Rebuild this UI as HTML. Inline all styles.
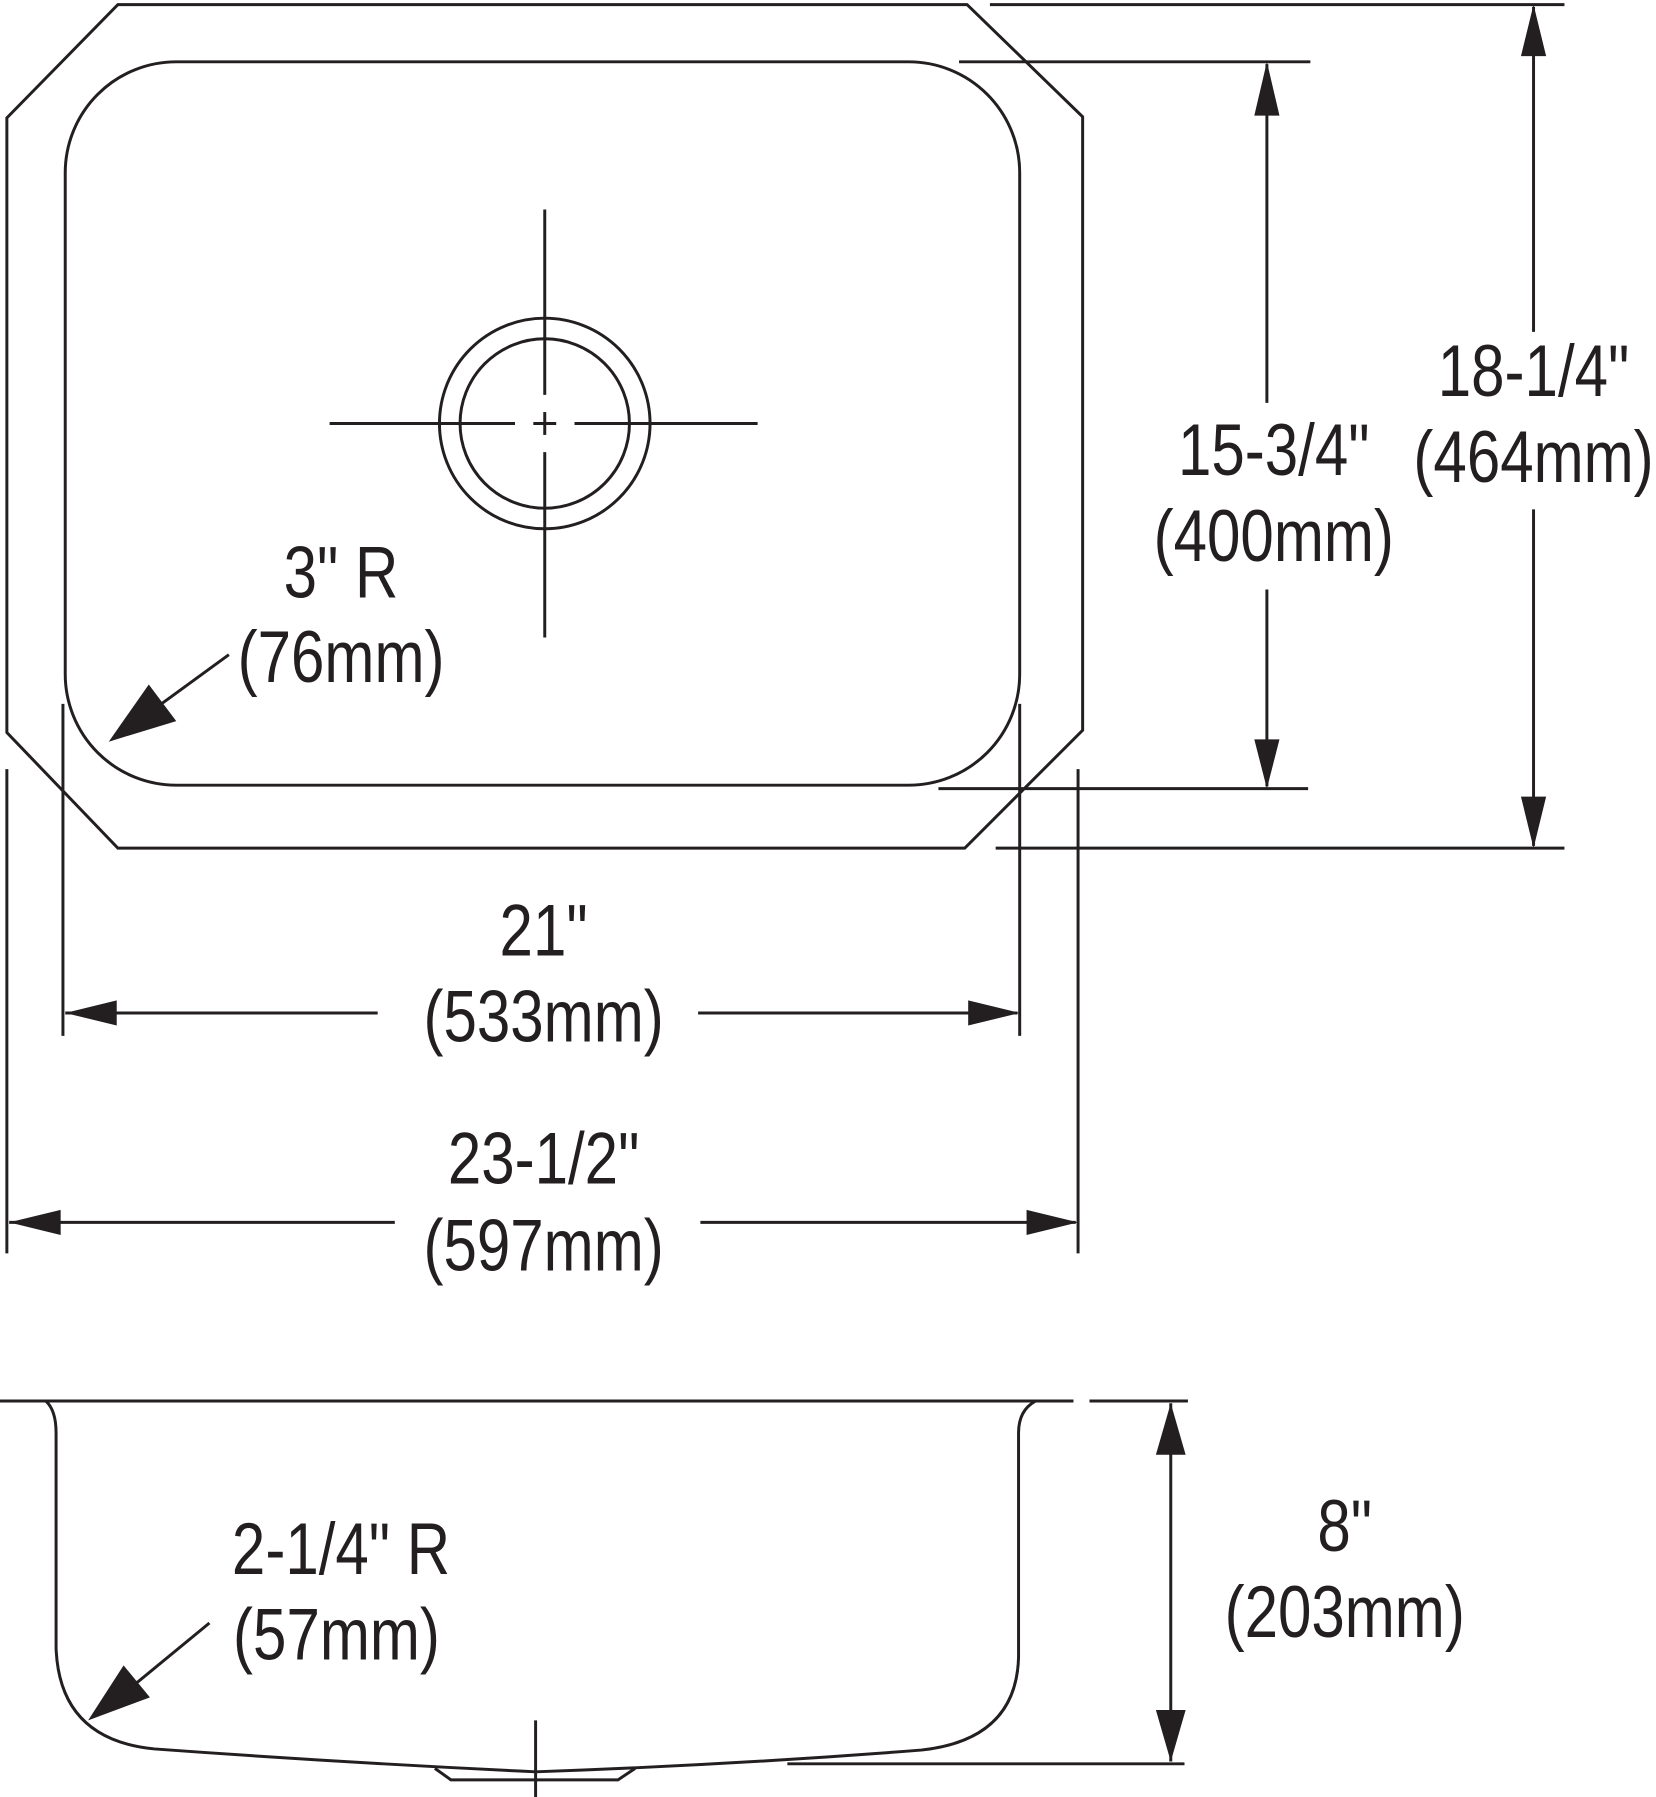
<!DOCTYPE html>
<html><head><meta charset="utf-8"><style>
html,body{margin:0;padding:0;background:#fff;}
svg{display:block;}
text{font-family:"Liberation Sans",sans-serif;font-size:64px;fill:#231f20;}
</style></head><body>
<svg width="1656" height="1797" viewBox="0 0 1447 1570" preserveAspectRatio="none" xmlns="http://www.w3.org/2000/svg">
<g fill="none" stroke="#231f20" stroke-width="2.6">
<!-- outer octagon -->
<polygon points="6,103 103,4 845,4 946,102 946,638 843,741 103,741 6,640"/>
<!-- inner bowl -->
<rect x="57" y="54" width="834" height="632" rx="97" ry="97"/>
<!-- drain -->
<circle cx="476" cy="370" r="92"/>
<circle cx="476" cy="370" r="74"/>
<line x1="288" y1="370" x2="450" y2="370"/>
<line x1="502" y1="370" x2="662" y2="370"/>
<line x1="476" y1="183" x2="476" y2="345"/>
<line x1="476" y1="395" x2="476" y2="557"/>
<line x1="466" y1="370" x2="486" y2="370"/>
<line x1="476" y1="360" x2="476" y2="380"/>
<!-- extension lines top view -->
<line x1="55" y1="615" x2="55" y2="905"/>
<line x1="891" y1="615" x2="891" y2="905"/>
<line x1="6" y1="672" x2="6" y2="1095"/>
<line x1="942" y1="672" x2="942" y2="1095"/>
<line x1="838" y1="54" x2="1145" y2="54"/>
<line x1="820" y1="689" x2="1143" y2="689"/>
<line x1="865" y1="4" x2="1367" y2="4"/>
<line x1="870" y1="741" x2="1367" y2="741"/>
<!-- dim lines -->
<line x1="57" y1="885" x2="330" y2="885"/>
<line x1="610" y1="885" x2="889" y2="885"/>
<line x1="8" y1="1068" x2="345" y2="1068"/>
<line x1="612" y1="1068" x2="940" y2="1068"/>
<line x1="1107" y1="56" x2="1107" y2="352"/>
<line x1="1107" y1="515" x2="1107" y2="687"/>
<line x1="1340" y1="6" x2="1340" y2="290"/>
<line x1="1340" y1="445" x2="1340" y2="739"/>
<!-- leader 3" R -->
<line x1="200" y1="572" x2="130" y2="623"/>
<!-- side view -->
<line x1="0" y1="1224" x2="938" y2="1224"/>
<line x1="952" y1="1224" x2="1038" y2="1224"/>
<line x1="688" y1="1541" x2="1035" y2="1541"/>
<line x1="1023" y1="1226" x2="1023" y2="1539"/>
<path d="M40,1224 Q49,1232 49,1252 L49,1440 Q52,1520 135,1528 Q300,1540 468,1548 Q640,1542 805,1529 Q888,1520 890,1448 L890,1252 Q890,1232 905,1224"/>
<path d="M380,1545 L394,1555 L540,1555 L555,1545"/>
<line x1="468" y1="1503" x2="468" y2="1570"/>
<line x1="183" y1="1418" x2="110" y2="1478"/>
</g>
<g fill="#231f20" stroke="none">
<!-- arrowheads -->
<polygon points="57,885 102,874 102,896"/>
<polygon points="891,885 846,874 846,896"/>
<polygon points="8,1068 53,1057 53,1079"/>
<polygon points="942,1068 897,1057 897,1079"/>
<polygon points="1107,54 1096,101 1118,101"/>
<polygon points="1107,689 1096,646 1118,646"/>
<polygon points="1340,4 1329,49 1351,49"/>
<polygon points="1340,741 1329,696 1351,696"/>
<polygon points="1023,1226 1010,1271 1036,1271"/>
<polygon points="1023,1539 1010,1494 1036,1494"/>
<polygon points="95,648 130,598 154,630"/>
<polygon points="77,1503 108,1455 131,1483"/>
</g>
<g text-anchor="middle">
<g transform="translate(298,522) scale(0.82,1)"><text>3" R</text></g>
<g transform="translate(298,596) scale(0.82,1)"><text>(76mm)</text></g>
<g transform="translate(475,835) scale(0.82,1)"><text>21"</text></g>
<g transform="translate(475,910) scale(0.82,1)"><text>(533mm)</text></g>
<g transform="translate(475,1034) scale(0.82,1)"><text>23-1/2"</text></g>
<g transform="translate(475,1110) scale(0.82,1)"><text>(597mm)</text></g>
<g transform="translate(1113,415) scale(0.82,1)"><text>15-3/4"</text></g>
<g transform="translate(1113,490) scale(0.82,1)"><text>(400mm)</text></g>
<g transform="translate(1340,346) scale(0.82,1)"><text>18-1/4"</text></g>
<g transform="translate(1340,421) scale(0.82,1)"><text>(464mm)</text></g>
<g transform="translate(1175,1355) scale(0.82,1)"><text>8"</text></g>
<g transform="translate(1175,1430) scale(0.82,1)"><text>(203mm)</text></g>
<g transform="translate(298,1375) scale(0.82,1)"><text>2-1/4" R</text></g>
<g transform="translate(294,1450) scale(0.82,1)"><text>(57mm)</text></g>
</g>
</svg>
</body></html>
